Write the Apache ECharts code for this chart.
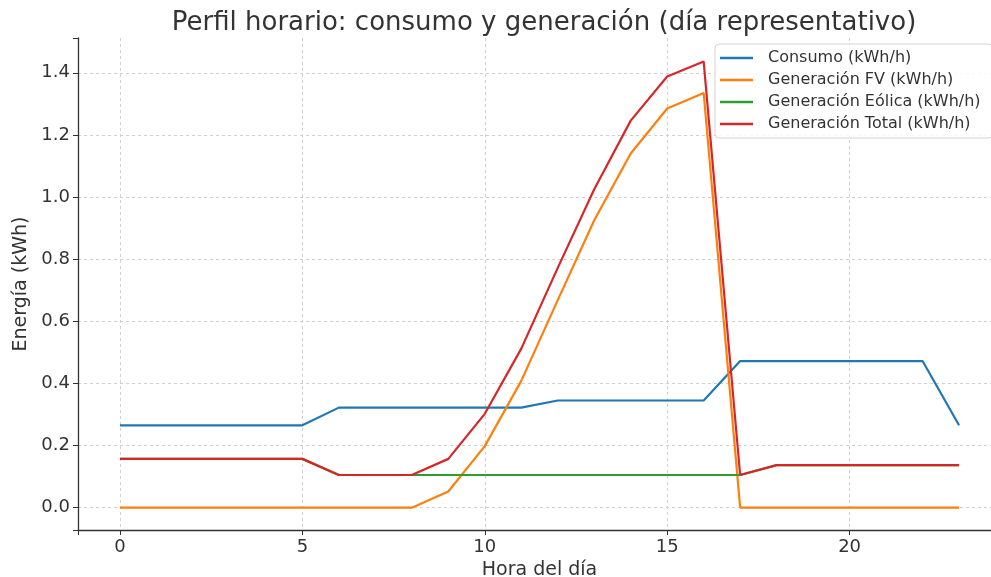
<!DOCTYPE html>
<html>
<head>
<meta charset="utf-8">
<script src="https://cdn.jsdelivr.net/npm/echarts@6/dist/echarts.min.js"></script>
<style>
  html, body { margin: 0; padding: 0; background: #fff; }
  #chart { width: 991px; height: 577px; }
</style>
</head>
<body>
<div id="chart"></div>
<script>
/** hours of the representative day */
const hours = [0, 1, 2, 3, 4, 5, 6, 7, 8, 9, 10, 11, 12, 13, 14, 15, 16, 17, 18, 19, 20, 21, 22, 23];

/** series values (kWh/h) */
const consumo = [0.265, 0.265, 0.265, 0.265, 0.265, 0.265, 0.322, 0.322, 0.322, 0.322, 0.322, 0.322,
  0.345, 0.345, 0.345, 0.345, 0.345, 0.472, 0.472, 0.472, 0.472, 0.472, 0.472, 0.265];
const fv = [0, 0, 0, 0, 0, 0, 0, 0, 0, 0.052, 0.198, 0.408, 0.668, 0.925, 1.14, 1.285, 1.335, 0,
  0, 0, 0, 0, 0, 0];
const eolica = [0.157, 0.157, 0.157, 0.157, 0.157, 0.157, 0.105, 0.105, 0.105, 0.105, 0.105, 0.105,
  0.105, 0.105, 0.105, 0.105, 0.105, 0.105, 0.137, 0.137, 0.137, 0.137, 0.137, 0.137];
const total = [0.157, 0.157, 0.157, 0.157, 0.157, 0.157, 0.105, 0.105, 0.105, 0.157, 0.302, 0.512,
  0.772, 1.025, 1.246, 1.388, 1.436, 0.105, 0.137, 0.137, 0.137, 0.137, 0.137, 0.137];

const names = ["Consumo (kWh/h)", "Generación FV (kWh/h)", "Generación Eólica (kWh/h)", "Generación Total (kWh/h)"];
const colors = ["#1f77b4", "#ff7f0e", "#2ca02c", "#d62728"];
const values = [consumo, fv, eolica, total];

const font = "'DejaVu Sans', sans-serif";
const ink = "#333";

/** hide grid lines that fall on the plot edges (non-nice extent ticks) */
const gridColors = (n) => Array.from({ length: n }, (_, i) => (i === 0 || i === n - 1 ? "rgba(0,0,0,0)" : "#d0d0d0"));

const chart = echarts.init(document.getElementById("chart"), undefined, { renderer: "canvas" });

const option = {
  animation: false,
  backgroundColor: "#fff",
  color: colors,
  title: {
    text: "Perfil horario: consumo y generación (día representativo)",
    left: 539,
    top: 5,
    textAlign: "center",
    textStyle: { fontFamily: font, fontSize: 26, fontWeight: "normal", color: ink },
  },
  grid: { left: 78, right: -10, top: 38, bottom: 47, containLabel: false, outerBoundsMode: "none" },
  legend: {
    orient: "vertical",
    left: 715,
    top: 44,
    padding: [6, 12, 6, 5],
    itemGap: 6,
    itemWidth: 33,
    itemHeight: 2.5,
    icon: "rect",
    backgroundColor: "rgba(255,255,255,0.85)",
    borderColor: "#d5d5d5",
    borderWidth: 1,
    borderRadius: 4,
    textStyle: { fontFamily: font, fontSize: 16, color: ink, padding: [0, 0, 0, 10] },
    data: names,
  },
  xAxis: {
    type: "value",
    min: -1.15,
    max: 24.15,
    minInterval: 5,
    maxInterval: 5,
    name: "Hora del día",
    nameLocation: "middle",
    nameGap: 30,
    nameTextStyle: { fontFamily: font, fontSize: 19, color: ink },
    axisLine: { show: true, onZero: false, lineStyle: { color: ink, width: 1.3 } },
    axisTick: { show: true, inside: false, length: 5, lineStyle: { color: ink } },
    axisLabel: {
      fontFamily: font, fontSize: 18, color: ink, margin: 8,
      formatter: (v) => (Math.abs(v - Math.round(v)) < 1e-6 && Math.round(v) % 5 === 0 ? String(Math.round(v)) : ""),
    },
    splitLine: { show: true, lineStyle: { type: [3, 3], width: 1, color: gridColors(7) } },
  },
  yAxis: {
    type: "value",
    min: -0.072,
    max: 1.512,
    minInterval: 0.2,
    maxInterval: 0.2,
    name: "Energía (kWh)",
    nameLocation: "middle",
    nameGap: 44,
    nameRotate: 90,
    nameTextStyle: { fontFamily: font, fontSize: 19, color: ink },
    axisLine: { show: true, onZero: false, lineStyle: { color: ink, width: 1.3 } },
    axisTick: { show: true, inside: false, length: 5, lineStyle: { color: ink } },
    axisLabel: {
      fontFamily: font, fontSize: 18, color: ink, margin: 8,
      formatter: (v) => {
        const r = Math.round(v * 10) / 10;
        return Math.abs(v - r) < 1e-6 ? r.toFixed(1) : "";
      },
    },
    splitLine: { show: true, lineStyle: { type: [3, 3], width: 1, color: gridColors(10) } },
  },
  series: names.map((name, i) => ({
    name,
    type: "line",
    data: hours.map((h, j) => [h, values[i][j]]),
    showSymbol: false,
    symbol: "none",
    lineStyle: { width: 2.2, color: colors[i] },
    itemStyle: { color: colors[i] },
    z: 2 + i,
  })),
};

chart.setOption(option);
</script>
</body>
</html>
